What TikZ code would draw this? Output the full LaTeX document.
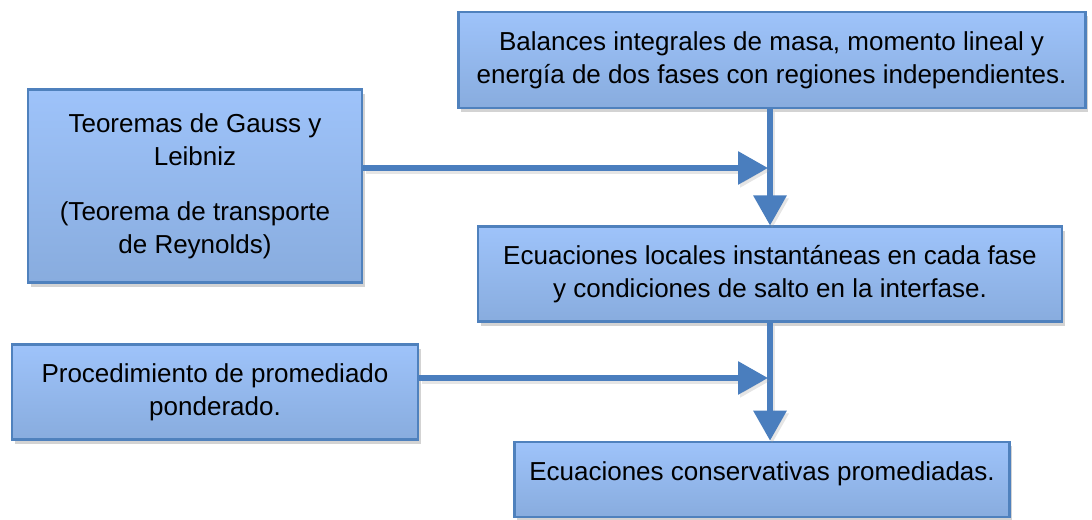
\documentclass[tikz,border=0pt]{standalone}
\usepackage{fontspec}
\setmainfont{Liberation Sans}
\usetikzlibrary{arrows.meta,positioning,shadows}
\definecolor{bTop}{RGB}{158,195,250}
\definecolor{bBottom}{RGB}{136,172,222}
\definecolor{bEdge}{RGB}{79,129,189}
\definecolor{bLine}{RGB}{74,126,190}

\begin{document}
\begin{tikzpicture}[
		>={Triangle[length=0.75cm,width=0.8cm]},
		box/.style={
			draw=bEdge,line width=2pt,top color=bTop,bottom color=bBottom,
			drop shadow={shadow xshift=2pt,shadow yshift=-3pt,opacity=0.35},
			align=center,inner sep=0pt,
			font=\fontsize{18.5}{23.5}\selectfont,text=black
		},
		flow/.style={->,draw=bLine,fill=bLine,line width=4.3pt,
			preaction={draw=black!40,opacity=0.25,line width=4.3pt,transform canvas={xshift=1.5pt,yshift=-2pt}}}
		]
		\useasboundingbox (0,0) rectangle (27.3,13);

		\node[box,minimum width=15.675cm,minimum height=2.4cm]  (bal) at (19.29,11.5)
			{Balances integrales de masa, momento lineal y\\energía de dos fases con regiones independientes.};
		\node[box,minimum width=8.35cm,minimum height=4.825cm]  (gauss) at (4.875,8.34)
			{Teoremas de Gauss y\\Leibniz\\[16pt](Teorema de transporte\\de Reynolds)};
		\node[box,minimum width=14.6cm,minimum height=2.375cm]  (loc) at (19.25,6.14)
			{Ecuaciones locales instantáneas en cada fase\\y condiciones de salto en la interfase.};
		\node[box,minimum width=10.15cm,minimum height=2.375cm] (prom) at (5.375,3.19)
			{Procedimiento de promediado\\ponderado.};
		\node[box,minimum width=12.375cm,minimum height=1.875cm,text depth=0.45cm] (cons) at (19.05,1.01)
			{Ecuaciones conservativas promediadas.};

		% junctions on the vertical line
		\coordinate (j1) at (19.2,8.8);
		\coordinate (j2) at (19.2,3.55);
		\coordinate (v) at (19.25,0);

		\draw[flow] (bal.south -| v) -- (loc.north -| v);
		\draw[flow] (loc.south -| v) -- (cons.north -| v);
		\draw[flow] (gauss.east |- j1) -- (j1);
		\draw[flow] (prom.east |- j2) -- (j2);
	\end{tikzpicture}
\end{document}
